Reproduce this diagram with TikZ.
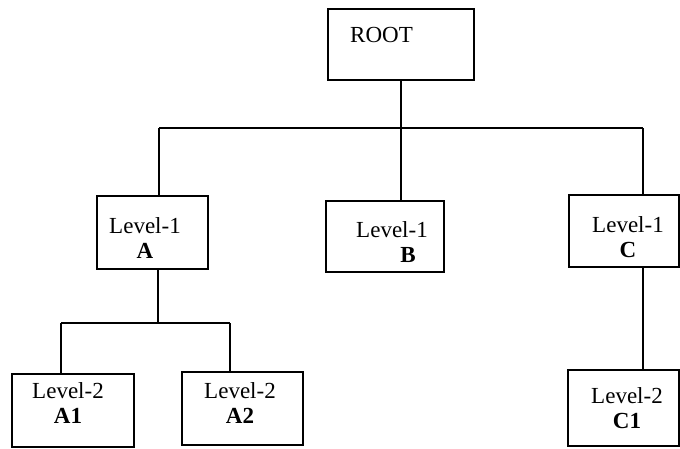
\documentclass[tikz,border=0pt]{standalone}
\usepackage{fontspec}
\setmainfont{Liberation Serif}
\begin{document}
\begin{tikzpicture}[x=1pt,y=-1pt,
  box/.style={draw,line width=2.4pt,rectangle,inner sep=0pt,outer sep=0pt},
  conn/.style={line width=2.1pt},
  lbl/.style={align=center,inner sep=0pt,font=\fontsize{23}{25}\selectfont}]
\useasboundingbox (0,0) rectangle (680,448);
% boxes
\node[box,minimum width=146pt,minimum height=71pt] (root) at (401,44.5) {};
\node[lbl,anchor=base west] (rootT) at (350,42) {ROOT};

\node[box,minimum width=111pt,minimum height=73pt] (a) at (152.5,232.5) {};
\node[lbl] (aT) at (145,237.7) {Level-1\\\textbf{A}};

\node[box,minimum width=118pt,minimum height=71pt] (b) at (385,236.5) {};
\node[lbl] (bT) at (392,241.7) {Level-1\\\hspace*{32pt}\textbf{B}};

\node[box,minimum width=110pt,minimum height=72pt] (c) at (624,231) {};
\node[lbl] (cT) at (628,236.7) {Level-1\\\textbf{C}};

\node[box,minimum width=122pt,minimum height=73pt] (a1) at (73,410.5) {};
\node[lbl] (a1T) at (68,402.7) {Level-2\\\textbf{A1}};

\node[box,minimum width=121pt,minimum height=73pt] (a2) at (242.5,408.5) {};
\node[lbl] (a2T) at (240,402.7) {Level-2\\\textbf{A2}};

\node[box,minimum width=111pt,minimum height=76pt] (c1) at (623.5,408) {};
\node[lbl] (c1T) at (627,407.7) {Level-2\\\textbf{C1}};

% connectors
\coordinate (jr) at (401,128);
\coordinate (ja) at (159,128);
\coordinate (jc) at (643,128);
\draw[conn] (root.south) -- (jr);
\draw[conn] (ja) -- (jc);
\draw[conn] (ja) -- (ja |- a.north);
\draw[conn] (jr) -- (jr |- b.north);
\draw[conn] (jc) -- (jc |- c.north);

\coordinate (ka) at (158,323);
\coordinate (k1) at (61,323);
\coordinate (k2) at (230,323);
\draw[conn] (ka |- a.south) -- (ka);
\draw[conn] (k1) -- (k2);
\draw[conn] (k1) -- (k1 |- a1.north);
\draw[conn] (k2) -- (k2 |- a2.north);

\coordinate (kc) at (643,300);
\draw[conn] (kc |- c.south) -- (kc |- c1.north);
\end{tikzpicture}
\end{document}
